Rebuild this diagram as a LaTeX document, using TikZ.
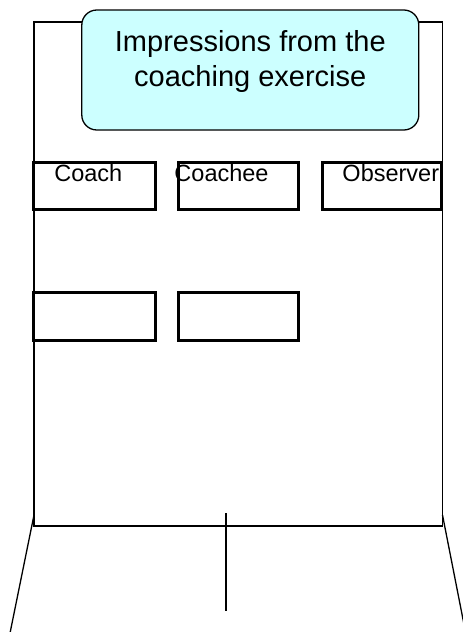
\documentclass[tikz,border=0pt]{standalone}
\usepackage{fontspec}
\setmainfont{Liberation Sans}
\definecolor{titlefill}{HTML}{CCFFFF}
\begin{document}
\begin{tikzpicture}[x=1pt,y=-1pt,
  board/.style={draw=black, line width=1.3pt, inner sep=0pt, minimum width=408.5pt, minimum height=504pt},
  leg/.style={draw=black, line width=1.3pt},
  slot/.style={draw=black, line width=3pt, inner sep=0pt, minimum width=#1, minimum height=47pt},
  titlebox/.style={draw=black, line width=1.3pt, fill=titlefill, rounded corners=15pt, inner sep=0pt, minimum width=337pt, minimum height=120pt},
  titletext/.style={anchor=base, inner sep=0pt, font=\fontsize{29}{33}\selectfont},
  label/.style={anchor=base, inner sep=0pt, font=\fontsize{23.5}{28}\selectfont}]
\useasboundingbox (0,0) rectangle (463,632);
% board
\node[board] (board) at (238.25,274) {};
% legs
\coordinate (ltop) at (34,515);
\coordinate (lbot) at (8,643);
\coordinate (rtop) at (442.5,515);
\coordinate (rbot) at (465.5,632);
\coordinate (ctop) at (226,513);
\coordinate (cbot) at (226,611);
\draw[leg] (ltop) -- (lbot);
\draw[leg] (rtop) -- (rbot);
\draw[leg] (ctop) -- (cbot);
% title
\node[titlebox] (title) at (250.3,70) {};
\node[titletext] (title1) at (250.3,51.7) {Impressions from the};
\node[titletext] (title2) at (250.3,86) {coaching exercise};
% slots row 1
\node[slot=121.5pt] (coach) at (94.25,185.5) {};
\node[slot=120pt] (coachee) at (238,185.5) {};
\node[slot=119pt] (observer) at (381.5,185.5) {};
\node[label] (coachlbl) at (88.3,181) {Coach};
\node[label] (coacheelbl) at (221.5,181) {Coachee};
\node[label] (observerlbl) at (390.8,181) {Observer};
% slots row 2
\node[slot=121.5pt, minimum height=47.5pt] (empty1) at (94.25,316.25) {};
\node[slot=120pt, minimum height=47.5pt] (empty2) at (238,316.25) {};
\end{tikzpicture}
\end{document}
